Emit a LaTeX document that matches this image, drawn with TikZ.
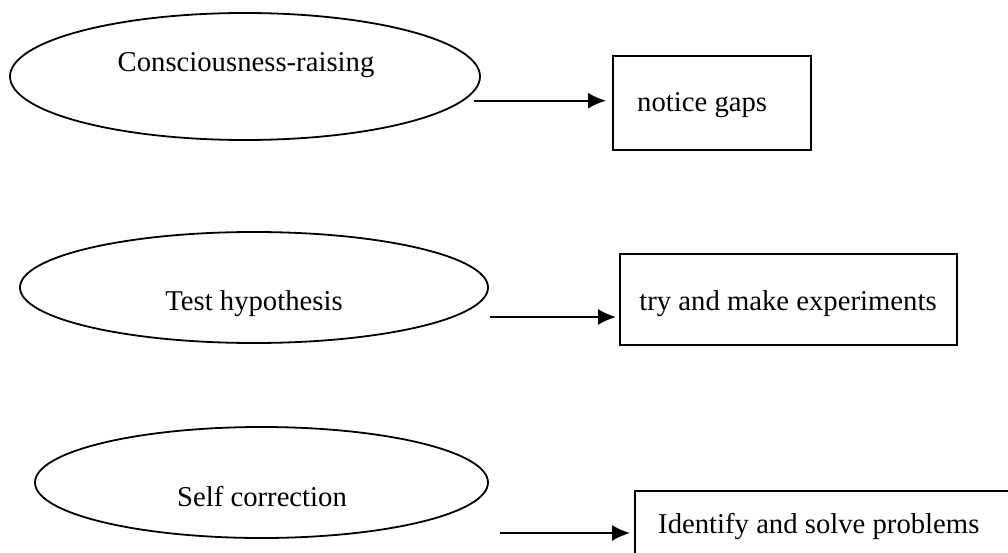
\documentclass[tikz,border=0pt]{standalone}
\usepackage{fontspec}
\setmainfont{Liberation Serif}
\usetikzlibrary{shapes.geometric,arrows.meta}
\tikzset{
  oval/.style={draw, ellipse, line width=1.8pt, inner sep=0pt},
  boxnode/.style={draw, rectangle, line width=2pt, inner sep=0pt},
  lbl/.style={inner sep=0pt, anchor=base, font=\fontsize{28.7}{34}\selectfont},
  conn/.style={line width=1.9pt, -{Latex[length=18pt,width=16pt]}}
}
\begin{document}
\begin{tikzpicture}[x=1pt,y=-1pt]
\path[use as bounding box] (0,0) rectangle (1008,553);
\clip (0,0) rectangle (1008,553);
% ellipses
\node[oval, minimum width=470pt, minimum height=127pt] (e1) at (245,76.5) {};
\node[oval, minimum width=468pt, minimum height=111pt] (e2) at (254,287.5) {};
\node[oval, minimum width=453pt, minimum height=111pt] (e3) at (261.5,482.5) {};
\node[lbl] (t1) at (246,72) {Consciousness-raising};
\node[lbl] (t2) at (254,310) {Test hypothesis};
\node[lbl] (t3) at (262,506) {Self correction};
% boxes
\node[boxnode, minimum width=198pt, minimum height=94pt] (b1) at (712,103) {};
\node[boxnode, minimum width=337pt, minimum height=91pt] (b2) at (788.5,299.5) {};
\node[boxnode, minimum width=395pt, minimum height=90pt] (b3) at (832.5,536) {};
\node[lbl, anchor=base west] (u1) at (637,112) {notice gaps};
\node[lbl] (u2) at (788,310.7) {try and make experiments};
\node[lbl, anchor=base west] (u3) at (658,533) {Identify and solve problems};
% connectors
\coordinate (s1) at (474,100.7);
\coordinate (s2) at (490,317);
\coordinate (s3) at (500,533);
\draw[conn, shorten >=6pt] (s1) -- (s1 -| b1.west);
\draw[conn, shorten >=3pt] (s2) -- (s2 -| b2.west);
\draw[conn, shorten >=4pt] (s3) -- (s3 -| b3.west);
\end{tikzpicture}
\end{document}
